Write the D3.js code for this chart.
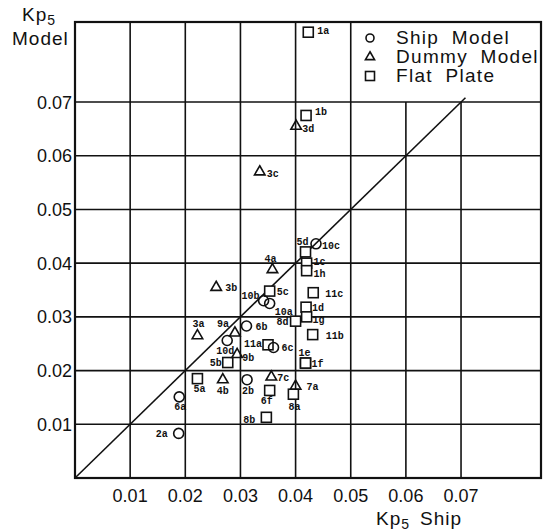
<!DOCTYPE html>
<html>
<head>
<meta charset="utf-8">
<script src="https://cdn.jsdelivr.net/npm/d3@7"></script>
<style>
  body { margin: 0; background: #fff; }
  svg text { fill: #111; }
</style>
</head>
<body>
<script>
// ---- data: [id, Kp5 ship, Kp5 model] ----
var shipModel = [
  ["10c", 0.0437, 0.0436], ["10b", 0.0342, 0.0330], ["10a", 0.0353, 0.0325],
  ["6b", 0.0311, 0.0283], ["10d", 0.0276, 0.0256], ["6c", 0.0360, 0.0243],
  ["2b", 0.0312, 0.0183], ["6a", 0.0189, 0.0151], ["2a", 0.0188, 0.0083]
]
var dummyModel = [
  ["3d", 0.0401, 0.0655], ["3c", 0.0335, 0.0570], ["4a", 0.0358, 0.0388],
  ["3b", 0.0256, 0.0355], ["9a", 0.0290, 0.0270], ["3a", 0.0222, 0.0265],
  ["9b", 0.0294, 0.0230], ["4b", 0.0268, 0.0183], ["7c", 0.0356, 0.0188],
  ["7a", 0.0400, 0.0171]
]
var flatPlate = [
  ["1a", 0.0423, 0.0830], ["1b", 0.0419, 0.0675], ["5d", 0.0418, 0.0421],
  ["1c", 0.0420, 0.0400], ["1h", 0.0420, 0.0386], ["11c", 0.0432, 0.0345],
  ["5c", 0.0353, 0.0348], ["1d", 0.0419, 0.0318], ["1g", 0.0420, 0.0300],
  ["8d", 0.0400, 0.0292], ["11b", 0.0431, 0.0267], ["11a", 0.0350, 0.0248],
  ["5b", 0.0277, 0.0215], ["1e", 0.0418, 0.0214], ["1f", 0.0418, 0.0214],
  ["5a", 0.0222, 0.0185], ["6f", 0.0353, 0.0163], ["8a", 0.0396, 0.0156],
  ["8b", 0.0347, 0.0113]
]
var xTicks = [0.01, 0.02, 0.03, 0.04, 0.05, 0.06, 0.07]
var yTicks = [0.01, 0.02, 0.03, 0.04, 0.05, 0.06, 0.07]
var tickText = ["0.01", "0.02", "0.03", "0.04", "0.05", "0.06", "0.07"]
var legendNames = ["Ship Model", "Dummy Model", "Flat Plate"]

// where each point tag sits next to its marker: [dx, dy, anchor]
var tagPos = {
  "1a": [9, -2, "start"], "1b": [9, -4, "start"], "3d": [6, 2, "start"],
  "3c": [7, 2, "start"], "10c": [6, 2, "start"], "5d": [-3, -10, "middle"],
  "1c": [7, -2, "start"], "1h": [7, 3, "start"], "4a": [-2, -11, "middle"],
  "3b": [9, 0, "start"], "11c": [12, 1, "start"], "5c": [7, 0, "start"],
  "10b": [-4, -5, "end"], "10a": [5, 8, "start"], "1d": [6, 0, "start"],
  "1g": [6, 3, "start"], "8d": [-7, 0, "end"], "11b": [13, 1, "start"],
  "6b": [9, 0, "start"], "9a": [-6, -9, "end"], "3a": [1, -12, "middle"],
  "10d": [-2, 10, "middle"], "11a": [-6, -1, "end"], "6c": [8, 0, "start"],
  "9b": [5, 3, "start"], "1e": [-1, -11, "middle"], "1f": [6, 0, "start"],
  "5b": [-6, 0, "end"], "5a": [2, 10, "middle"], "4b": [0, 11, "middle"],
  "6a": [1, 10, "middle"], "2a": [-11, 0, "end"], "2b": [1, 11, "middle"],
  "7c": [6, 0, "start"], "6f": [-3, 10, "middle"], "7a": [11, 0, "start"],
  "8a": [1, 12, "middle"], "8b": [-11, 2, "end"]
}

var W = 551, H = 532
// plot frame in pixels (note: "top" is taken by window.top)
var pL = 75, pR = 541, pT = 22, pB = 478

var svg = d3.select("body").append("svg")
  .attr("width", W).attr("height", H)

var x = d3.scaleLinear().domain([0, 0.0845]).range([pL, pR])
var y = d3.scaleLinear().domain([0, 0.0849]).range([pB, pT])

var ink = "#111"
var font = "'Liberation Sans', Arial, sans-serif"

// grid lines (top right block kept clear for the legend)
svg.selectAll(".vgrid").data(xTicks).enter().append("line")
  .attr("x1", function(d) { return x(d) }).attr("x2", function(d) { return x(d) })
  .attr("y1", pB)
  .attr("y2", function(d) { return d > 0.05 ? y(0.07) : pT })
  .attr("stroke", ink).attr("stroke-width", 1.6)

svg.selectAll(".hgrid").data(yTicks).enter().append("line")
  .attr("x1", pL).attr("x2", pR)
  .attr("y1", function(d) { return y(d) }).attr("y2", function(d) { return y(d) })
  .attr("stroke", ink).attr("stroke-width", 1.6)

// frame
svg.append("rect")
  .attr("x", pL).attr("y", pT)
  .attr("width", pR - pL).attr("height", pB - pT)
  .attr("fill", "none").attr("stroke", ink).attr("stroke-width", 2.2)

// 45 degree line
svg.append("line")
  .attr("x1", x(0)).attr("y1", y(0))
  .attr("x2", x(0.0708)).attr("y2", y(0.0708))
  .attr("stroke", ink).attr("stroke-width", 1.6)

// tick labels
svg.selectAll(".xlab").data(xTicks).enter().append("text")
  .attr("x", function(d) { return x(d) }).attr("y", 502)
  .attr("text-anchor", "middle")
  .style("font-family", font).style("font-size", "18px")
  .text(function(d, i) { return tickText[i] })

svg.selectAll(".ylab").data(yTicks).enter().append("text")
  .attr("x", 72).attr("y", function(d) { return y(d) })
  .attr("dy", "0.36em")
  .attr("text-anchor", "end")
  .style("font-family", font).style("font-size", "18px")
  .text(function(d, i) { return tickText[i] })

// axis titles: Kp5 Model / Kp5 Ship
function kp(g, xx, yy) {
  var t = g.append("text").attr("x", xx).attr("y", yy)
    .style("font-family", font).style("font-size", "19px")
    .style("letter-spacing", "1px")
  t.append("tspan").text("Kp")
  t.append("tspan").attr("dy", 4).style("font-size", "14px").text("5")
  return t
}
kp(svg, 22, 21)
svg.append("text").attr("x", 12).attr("y", 45)
  .style("font-family", font).style("font-size", "19px")
  .style("letter-spacing", "1px")
  .text("Model")
var kt = kp(svg, 376, 525)
kt.append("tspan").attr("dy", -4).style("font-size", "19px").attr("dx", 10).text("Ship")

// markers
var tri = d3.symbol().type(d3.symbolTriangle).size(48)

function drawTags(data) {
  svg.selectAll(null).data(data).enter().append("text")
    .attr("x", function(d) { return x(d[1]) + tagPos[d[0]][0] })
    .attr("y", function(d) { return y(d[2]) + tagPos[d[0]][1] })
    .attr("dy", "0.35em")
    .attr("text-anchor", function(d) { return tagPos[d[0]][2] })
    .style("font-family", "'Liberation Mono', 'DejaVu Sans Mono', monospace")
    .style("font-weight", "bold").style("font-size", "10px")
    .text(function(d) { return d[0] })
}

svg.selectAll(null).data(flatPlate).enter().append("rect")
  .attr("x", function(d) { return x(d[1]) - 5 })
  .attr("y", function(d) { return y(d[2]) - 5 })
  .attr("width", 10).attr("height", 10)
  .attr("fill", "#fff").attr("stroke", ink).attr("stroke-width", 1.6)

svg.selectAll(null).data(dummyModel).enter().append("path")
  .attr("d", tri)
  .attr("transform", function(d) { return "translate(" + x(d[1]) + "," + y(d[2]) + ")" })
  .attr("fill", "none").attr("stroke", ink).attr("stroke-width", 1.6)

svg.selectAll(null).data(shipModel).enter().append("circle")
  .attr("cx", function(d) { return x(d[1]) })
  .attr("cy", function(d) { return y(d[2]) })
  .attr("r", 5)
  .attr("fill", "none").attr("stroke", ink).attr("stroke-width", 1.6)

drawTags(flatPlate)
drawTags(dummyModel)
drawTags(shipModel)

// legend
var lg = svg.append("g")
var rowY = [44, 63, 82]
lg.append("circle").attr("cx", 370).attr("cy", rowY[0] - 6).attr("r", 4)
  .attr("fill", "none").attr("stroke", ink).attr("stroke-width", 1.6)
lg.append("path").attr("d", d3.symbol().type(d3.symbolTriangle).size(36))
  .attr("transform", "translate(370," + (rowY[1] - 6) + ")")
  .attr("fill", "none").attr("stroke", ink).attr("stroke-width", 1.6)
lg.append("rect").attr("x", 365.5).attr("y", rowY[2] - 10.5).attr("width", 9).attr("height", 9)
  .attr("fill", "none").attr("stroke", ink).attr("stroke-width", 1.6)
lg.selectAll("text").data(legendNames).enter().append("text")
  .attr("x", 396).attr("y", function(d, i) { return rowY[i] })
  .style("font-family", font).style("font-size", "19px")
  .style("letter-spacing", "1.3px").style("word-spacing", "6px")
  .text(function(d) { return d })
</script>
</body>
</html>
